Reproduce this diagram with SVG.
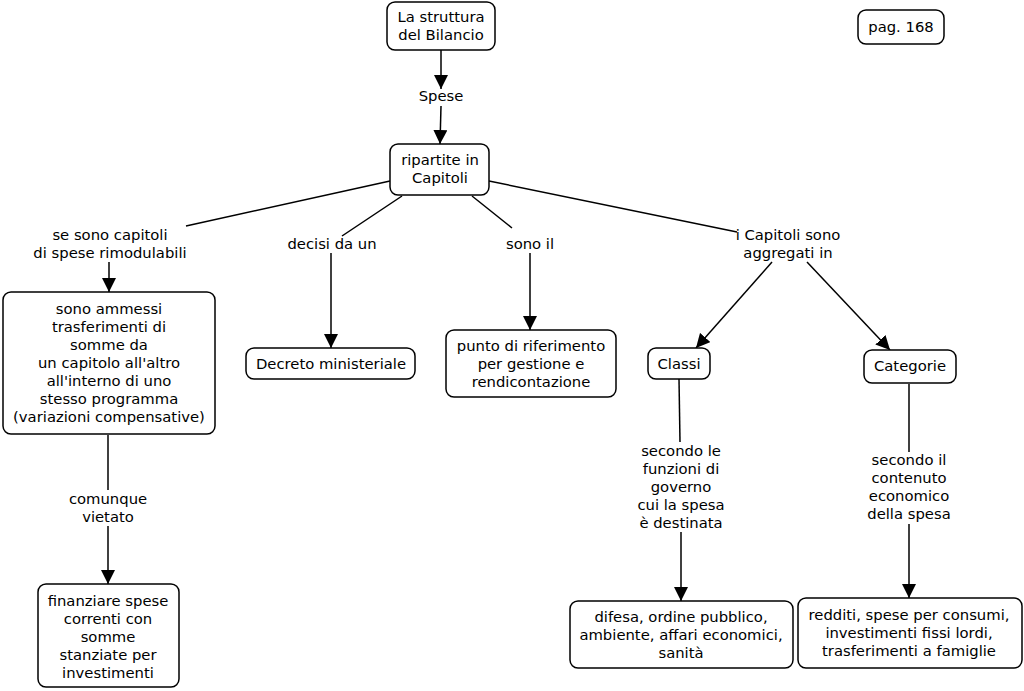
<svg xmlns="http://www.w3.org/2000/svg" width="1024" height="691" viewBox="0 0 1024 691">
<defs>
<marker id="ah" markerUnits="userSpaceOnUse" markerWidth="14" markerHeight="14" refX="14" refY="7" orient="auto" viewBox="0 0 14 14">
<path d="M0,0 L14,7 L0,14 z" fill="#000"/>
</marker>
<style>
.n rect{fill:#fff;stroke:#000;stroke-width:1.5}
text{font-family:"DejaVu Sans",Verdana,sans-serif;font-size:14.8px;fill:#000;text-anchor:middle}
.c line{stroke:#000;stroke-width:1.5}
.c line.a{marker-end:url(#ah)}
</style>
</defs>
<rect width="1024" height="691" fill="#fff"/>
<g class="c">
<line x1="441" y1="50" x2="441" y2="89" class="a"/>
<line x1="441" y1="106" x2="440" y2="144" class="a"/>
<line x1="390" y1="181" x2="186" y2="226"/>
<line x1="109" y1="262" x2="109" y2="292" class="a"/>
<line x1="402" y1="196" x2="342" y2="236"/>
<line x1="331" y1="253" x2="331" y2="348" class="a"/>
<line x1="472" y1="196" x2="512" y2="228"/>
<line x1="530" y1="253" x2="530" y2="330" class="a"/>
<line x1="489" y1="181" x2="737" y2="232"/>
<line x1="772" y1="262" x2="696" y2="348" class="a"/>
<line x1="807" y1="262" x2="890" y2="350" class="a"/>
<line x1="108" y1="435" x2="108" y2="490"/>
<line x1="108" y1="526" x2="108" y2="584" class="a"/>
<line x1="679" y1="379" x2="680" y2="442"/>
<line x1="681" y1="532" x2="681" y2="601" class="a"/>
<line x1="909" y1="384" x2="909" y2="452"/>
<line x1="909" y1="524" x2="909" y2="598" class="a"/>
</g>
<g id="labels">
<text x="441" y="101">Spese</text>
<text x="110" y="240">se sono capitoli</text>
<text x="110" y="258">di spese rimodulabili</text>
<text x="332" y="249">decisi da un</text>
<text x="530" y="249">sono il</text>
<text x="788" y="240">i Capitoli sono</text>
<text x="788" y="258">aggregati in</text>
<text x="108" y="504">comunque</text>
<text x="108" y="522">vietato</text>
<text x="681" y="456">secondo le</text>
<text x="681" y="474">funzioni di</text>
<text x="681" y="492">governo</text>
<text x="681" y="510">cui la spesa</text>
<text x="681" y="528">è destinata</text>
<text x="909" y="465">secondo il</text>
<text x="909" y="483">contenuto</text>
<text x="909" y="501">economico</text>
<text x="909" y="519">della spesa</text>
</g>
<g id="n1" class="n">
<rect x="387" y="2" width="108" height="48" rx="8"/>
<text x="441" y="22">La struttura</text>
<text x="441" y="40">del Bilancio</text>
</g>
<g id="n2" class="n">
<rect x="858" y="10" width="86" height="34" rx="8"/>
<text x="901" y="32">pag. 168</text>
</g>
<g id="n3" class="n">
<rect x="390" y="144" width="99" height="51" rx="8"/>
<text x="440" y="165">ripartite in</text>
<text x="440" y="183">Capitoli</text>
</g>
<g id="n4" class="n">
<rect x="3" y="292" width="212" height="142" rx="8"/>
<text x="109" y="314">sono ammessi</text>
<text x="109" y="332">trasferimenti di</text>
<text x="109" y="350">somme da</text>
<text x="109" y="368">un capitolo all'altro</text>
<text x="109" y="386">all'interno di uno</text>
<text x="109" y="404">stesso programma</text>
<text x="109" y="422">(variazioni compensative)</text>
</g>
<g id="n5" class="n">
<rect x="246" y="348" width="169" height="31" rx="8"/>
<text x="331" y="369">Decreto ministeriale</text>
</g>
<g id="n6" class="n">
<rect x="446" y="330" width="170" height="67" rx="8"/>
<text x="531" y="351">punto di riferimento</text>
<text x="531" y="369">per gestione e</text>
<text x="531" y="387">rendicontazione</text>
</g>
<g id="n7" class="n">
<rect x="648" y="348" width="62" height="31" rx="8"/>
<text x="679" y="369">Classi</text>
</g>
<g id="n8" class="n">
<rect x="864" y="350" width="92" height="33" rx="8"/>
<text x="910" y="371">Categorie</text>
</g>
<g id="n9" class="n">
<rect x="38" y="584" width="141" height="103" rx="8"/>
<text x="108" y="606">finanziare spese</text>
<text x="108" y="624">correnti con</text>
<text x="108" y="642">somme</text>
<text x="108" y="660">stanziate per</text>
<text x="108" y="678">investimenti</text>
</g>
<g id="n10" class="n">
<rect x="570" y="601" width="223" height="67" rx="8"/>
<text x="681" y="622">difesa, ordine pubblico,</text>
<text x="681" y="640">ambiente, affari economici,</text>
<text x="681" y="658">sanità</text>
</g>
<g id="n11" class="n">
<rect x="798" y="598" width="224" height="70" rx="8"/>
<text x="909" y="620">redditi, spese per consumi,</text>
<text x="909" y="638">investimenti fissi lordi,</text>
<text x="909" y="656">trasferimenti a famiglie</text>
</g>
</svg>
